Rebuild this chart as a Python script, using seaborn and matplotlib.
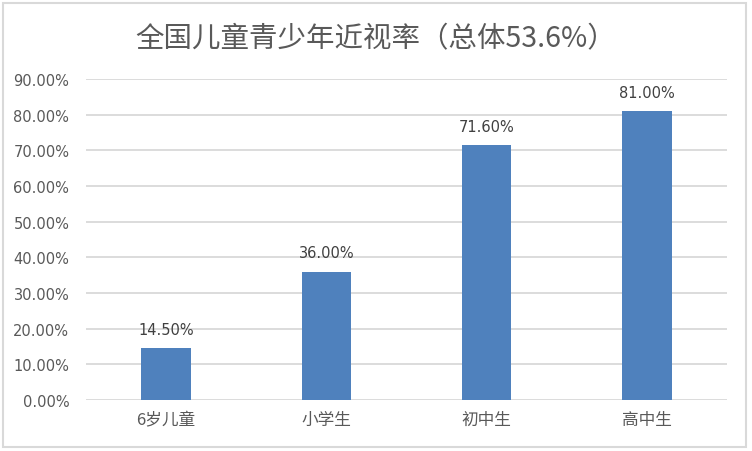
import seaborn as sns
import matplotlib.pyplot as plt
import pandas as pd
from matplotlib.patches import Rectangle

# 数据
categorias = ['6岁儿童', '小学生', '初中生', '高中生']
taxas = [14.5, 36.0, 71.6, 81.0]
yticks = [0, 10, 20, 30, 40, 50, 60, 70, 80, 90]

df = pd.DataFrame({'grupo': categorias, 'taxa': taxas})

sns.set_style('white')
plt.rcParams['font.family'] = ['Noto Sans CJK SC', 'DejaVu Sans']
num_font = ['DejaVu Sans', 'Noto Sans CJK SC']

fig = plt.figure(figsize=(7.52, 4.52), dpi=100)
ax = fig.add_axes([0.1144, 0.1128, 0.8524, 0.7102])

sns.barplot(x='grupo', y='taxa', data=df, color='#4F81BD', width=0.31,
            saturation=1, ax=ax, zorder=3, linewidth=0)

ax.set_ylim(0, 90)
ax.set_xlim(-0.5, 3.5)
ax.set_yticks(yticks)
ax.set_yticklabels([f'{v:.2f}%' for v in yticks], fontsize=10.5, color='#595959',
                   family=num_font)
ax.tick_params(axis='x', labelsize=12, labelcolor='#595959', length=0, pad=8)
ax.tick_params(axis='y', length=0, pad=12)
ax.grid(axis='y', color='#D9D9D9', linewidth=1.3, zorder=0)
ax.set_xlabel('')
ax.set_ylabel('')
for s in ax.spines.values():
    s.set_visible(False)

ax.bar_label(ax.containers[0], labels=[f'{v:.2f}%' for v in taxas],
             padding=8, fontsize=10.5, color='#404040', family=num_font)

fig.text(0.5, 0.913, '全国儿童青少年近视率（总体53.6%）', ha='center', va='center',
         fontsize=20.5, color='#595959')

# moldura
fig.patches.append(Rectangle((0.004, 0.008), 0.988, 0.984, transform=fig.transFigure,
                             fill=False, edgecolor='#D9D9D9', linewidth=1.5))

fig.savefig('out.png', dpi=100)
